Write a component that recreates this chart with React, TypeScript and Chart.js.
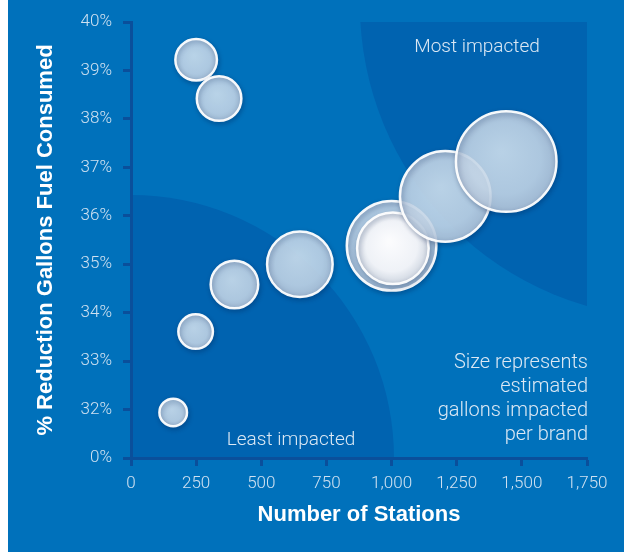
import React, { useEffect, useRef } from 'react';
import { Chart, registerables } from 'chart.js';

Chart.register(...registerables);

// ---- data ----
const stations = [162, 248, 250, 338, 397, 648, 1000, 1005, 1206, 1440];
const reductionPct = [31.94, 33.61, 39.22, 38.42, 34.58, 35.0, 35.38, 35.33, 36.4, 37.12];
const bubbleRadius = [13.8, 17.3, 20.8, 22.3, 23.8, 32.8, 44.8, 35.8, 45.3, 50.3];
const bubbleTone = ['blue', 'blue', 'blue', 'blue', 'blue', 'blue', 'blue', 'white', 'blue', 'blue'];

const xMin = 0;
const xMax = 1750;
const xStep = 250;
const yBreakValue = 31; // axis break: shown as 0%
const yMax = 40;
const yStep = 1;

const zoneLabels = ['Most impacted', 'Least impacted'];
const sizeNote = ['Size represents', 'estimated', 'gallons impacted', 'per brand'];
const xTitle = 'Number of Stations';
const yTitle = '% Reduction Gallons Fuel Consumed';

const BG = '#0071bb';
const ZONE = '#0063b0';
const AXIS = '#0a4f9b';
const TICK_TEXT = '#cfe1f1';
const NOTE_TEXT = '#dbe8f4';
const LIGHT_FONT = 'Roboto, "Liberation Sans", sans-serif';

const zonesPlugin = {
  id: 'zones',
  beforeDraw(chart: any) {
    const { ctx, chartArea } = chart;
    if (!chartArea) return;
    const { left, right, top, bottom } = chartArea;
    ctx.save();
    ctx.beginPath();
    ctx.rect(left, top, right - left, bottom - top);
    ctx.clip();
    ctx.fillStyle = ZONE;
    // most impacted zone (upper right)
    ctx.beginPath();
    ctx.arc(right + 86, top - 17, 313, 0, Math.PI * 2);
    ctx.fill();
    // least impacted zone (lower left quarter circle)
    ctx.beginPath();
    ctx.moveTo(left, bottom);
    ctx.arc(left, bottom, 263, -Math.PI / 2, 0);
    ctx.closePath();
    ctx.fill();
    ctx.restore();
  },
  beforeDatasetsDraw(chart: any) {
    const { ctx, chartArea } = chart;
    const { left, right, top, bottom } = chartArea;
    ctx.save();
    ctx.fillStyle = NOTE_TEXT;
    ctx.font = `300 19px ${LIGHT_FONT}`;
    ctx.textBaseline = 'alphabetic';
    ctx.textAlign = 'center';
    ctx.fillText(zoneLabels[0], right - 110, top + 30);
    ctx.fillText(zoneLabels[1], left + 160, bottom - 13);
    ctx.textAlign = 'right';
    ctx.font = `300 20px ${LIGHT_FONT}`;
    sizeNote.forEach((line, i) => {
      ctx.fillText(line, right + 1, bottom - 90 + i * 24);
    });
    ctx.restore();
    ctx.save();
    ctx.shadowColor = 'rgba(0, 25, 70, 0.3)';
    ctx.shadowBlur = 5;
    ctx.shadowOffsetX = 1;
    ctx.shadowOffsetY = 2;
  },
  afterDatasetsDraw(chart: any) {
    chart.ctx.restore();
  },
};

function bubbleFill(c: any) {
  const chart = c.chart;
  const raw = c.raw;
  if (!raw || !chart.chartArea) return 'rgba(205,220,235,0.9)';
  const x = chart.scales.x.getPixelForValue(raw.x);
  const y = chart.scales.y.getPixelForValue(raw.y);
  const r = raw.r;
  const g = chart.ctx.createRadialGradient(x - r * 0.1, y - r * 0.2, r * 0.05, x, y, r);
  if (bubbleTone[c.dataIndex] === 'white') {
    g.addColorStop(0, 'rgba(255,255,255,0.97)');
    g.addColorStop(0.7, 'rgba(245,247,250,0.95)');
    g.addColorStop(1, 'rgba(210,217,226,0.95)');
  } else {
    g.addColorStop(0, 'rgba(214,230,243,0.86)');
    g.addColorStop(0.7, 'rgba(203,220,236,0.85)');
    g.addColorStop(1, 'rgba(182,199,219,0.87)');
  }
  return g;
}

export default function App() {
  const ref = useRef<HTMLCanvasElement | null>(null);

  useEffect(() => {
    if (!ref.current) return;
    const points = stations.map((s, i) => ({ x: s, y: reductionPct[i], r: bubbleRadius[i] }));
    const chart = new Chart(ref.current, {
      type: 'bubble',
      data: {
        datasets: [
          {
            label: 'Brands',
            data: points,
            backgroundColor: bubbleFill,
            borderColor: 'rgba(255,255,255,0.95)',
            borderWidth: 2.5,
          },
        ],
      },
      options: {
        responsive: false,
        animation: false,
        events: [],
        layout: { autoPadding: false, padding: { top: 22, right: 37, left: 0, bottom: 0 } },
        plugins: {
          legend: { display: false },
          tooltip: { enabled: false },
        },
        scales: {
          x: {
            type: 'linear',
            min: xMin,
            max: xMax,
            afterFit: (s: any) => {
              s.height = 94;
            },
            ticks: {
              stepSize: xStep,
              color: TICK_TEXT,
              padding: 8,
              font: { family: LIGHT_FONT, size: 17, weight: '300' },
              callback: (v: any) => Number(v).toLocaleString('en-US'),
            },
            grid: {
              display: true,
              drawOnChartArea: false,
              drawTicks: true,
              tickLength: 8,
              tickWidth: 3,
              tickColor: AXIS,
            },
            border: { display: true, color: AXIS, width: 3 },
            title: {
              display: true,
              text: xTitle,
              color: '#ffffff',
              font: { family: '"Liberation Sans", Arial, sans-serif', size: 22, weight: 'bold' },
              padding: { top: 0, bottom: 24 },
            },
          },
          y: {
            type: 'linear',
            min: yBreakValue,
            max: yMax,
            afterFit: (s: any) => {
              s.width = 123;
            },
            ticks: {
              stepSize: yStep,
              color: TICK_TEXT,
              padding: 11,
              font: { family: LIGHT_FONT, size: 17, weight: '300' },
              callback: (v: any) => (Number(v) === yBreakValue ? '0%' : `${v}%`),
            },
            grid: {
              display: true,
              drawOnChartArea: false,
              drawTicks: true,
              tickLength: 8,
              tickWidth: 3,
              tickColor: AXIS,
            },
            border: { display: true, color: AXIS, width: 3 },
            title: {
              display: true,
              text: yTitle,
              color: '#ffffff',
              font: { family: '"Liberation Sans", Arial, sans-serif', size: 22, weight: 'bold' },
              padding: { top: 25, bottom: 0 },
            },
          },
        },
      },
      plugins: [zonesPlugin],
    } as any);
    return () => chart.destroy();
  }, []);

  return (
    <div
      style={{
        position: 'absolute',
        top: 0,
        left: 8,
        width: 616,
        height: 552,
        background: BG,
      }}
    >
      <canvas ref={ref} width={616} height={552} style={{ display: 'block' }} />
    </div>
  );
}
